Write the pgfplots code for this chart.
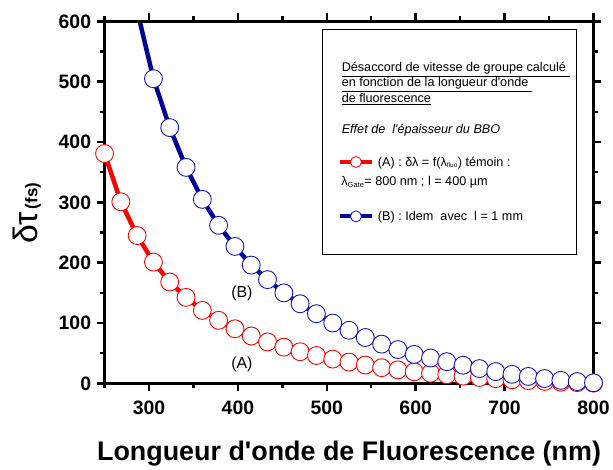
\documentclass[border=0pt]{standalone}
\usepackage{pgfplots}
\pgfplotsset{compat=1.18}
\usepackage{fontspec}
\setmainfont{Liberation Sans}
\definecolor{rA}{RGB}{255,0,0}
\definecolor{bL}{RGB}{0,0,150}
\definecolor{bM}{RGB}{20,20,190}
\begin{document}
\begin{tikzpicture}
\begin{axis}[name=ax, scale only axis, width=491pt, height=363.5pt,
 xmin=250, xmax=800, ymin=0, ymax=600,
 axis on top,
 xtick={300,400,...,800}, minor xtick={250,350,...,750},
 ytick={0,100,...,600}, minor ytick={50,150,...,550},
 tick align=outside, major tick length=8pt, minor tick length=5pt,
 every tick/.style={black, line width=2.5pt},
 axis line style={line width=3.5pt},
 /pgf/number format/assume math mode=true,
 ticklabel style={font=\bfseries\fontsize{19.5}{20}\selectfont},
 xticklabel style={yshift=-6pt},
 yticklabel style={xshift=-2pt},
 xlabel={Longueur d\textquotesingle onde de Fluorescence (nm)},
 xlabel style={font=\bfseries\fontsize{27}{30}\selectfont},
 xlabel shift=20pt,
 ylabel={{\fontsize{34}{34}\selectfont δτ}\ {\bfseries\fontsize{17}{17}\selectfont (fs)}},
 ylabel style={at={(ticklabel cs:0.47)}},
 ylabel shift=11pt,
]
\addplot[color=rA, line width=4.5pt, mark=*, mark size=9pt, mark options={fill=white, draw=rA, line width=0.9pt}] coordinates {
(250.0,381) (268.3,301) (286.7,245) (305.0,201) (323.3,168) (341.7,142.5) (360.0,121) (378.3,104.5)
(396.7,90.5) (415.0,78.5) (433.3,68.7) (451.7,60) (470.0,52.5) (488.3,46.2) (506.7,40.2) (525.0,35.2)
(543.3,30.4) (561.7,26) (580.0,22.4) (598.3,19.2) (616.7,16.8) (635.0,14.4) (653.3,12) (671.7,9.8)
(690.0,7.8) (708.3,6) (726.7,4.6) (745.0,3.2) (763.3,2) (781.7,1.2) (800.0,0.4)};
\addplot[color=bL, line width=4.5pt, mark=*, mark size=9pt, mark options={fill=white, draw=bM, line width=0.9pt}] coordinates {
(250.0,952) (268.3,752) (286.7,618) (305.0,505) (323.3,424) (341.7,358) (360.0,305) (378.3,262)
(396.7,227) (415.0,196) (433.3,172) (451.7,150) (470.0,132) (488.3,115.5) (506.7,100) (525.0,88)
(543.3,76) (561.7,65) (580.0,56) (598.3,48) (616.7,42) (635.0,36) (653.3,30) (671.7,24.5)
(690.0,19.5) (708.3,15) (726.7,11.5) (745.0,8) (763.3,5) (781.7,3) (800.0,1)};
% legend box
\draw[line width=0.8pt, fill=white] (axis cs:495.3,586) rectangle (axis cs:780.9,214.6);
% legend samples
\addplot[color=rA, line width=4pt, mark=*, mark size=5.5pt, mark indices={2}, mark options={fill=white, draw=rA, line width=0.8pt}] coordinates {(515.1,366.9) (532.8,366.9) (550.5,366.9)};
\addplot[color=bL, line width=4pt, mark=*, mark size=5.5pt, mark indices={2}, mark options={fill=white, draw=bM, line width=0.8pt}] coordinates {(515.1,276.8) (532.8,276.8) (550.5,276.8)};
\begin{scope}[every node/.style={anchor=base west, inner sep=0pt, font=\fontsize{12.7}{14}\selectfont}]
\node at (axis cs:516.6,516.2) {\underline{Désaccord de vitesse de groupe calculé\ }};
\node at (axis cs:516.6,491.4) {\underline{en fonction de la longueur d\textquotesingle onde\ }};
\node at (axis cs:516.6,465.0) {\underline{de fluorescence}};
\node at (axis cs:516.6,414.3) {\textit{Effet de\ \ l\textquotesingle épaisseur du BBO}};
\node at (axis cs:557.3,360.3) {(A) : δλ = f(λ\textsubscript{\fontsize{6.5}{6.5}\selectfont fluo}) témoin :};
\node at (axis cs:516.2,328.0) {λ\textsubscript{\fontsize{7.5}{7.5}\selectfont Gate}= 800 nm ; l = 400 µm};
\node at (axis cs:557.3,270.2) {(B) : Idem\ \ avec\ \ l = 1 mm};
\end{scope}
\node[font=\fontsize{16}{16}\selectfont] at (axis cs:404.5,148.6) {(B)};
\node[font=\fontsize{16}{16}\selectfont] at (axis cs:404.5,31) {(A)};
\end{axis}
\path ([xshift=-105pt,yshift=-81pt]ax.south west) rectangle ([xshift=17pt,yshift=21.5pt]ax.north east);
\end{tikzpicture}
\end{document}
